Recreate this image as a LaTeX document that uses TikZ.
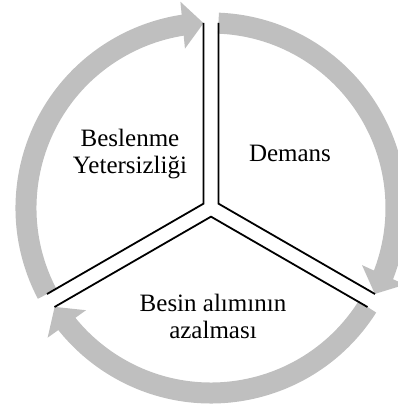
\documentclass[tikz,border=0pt]{standalone}
\usepackage{fontspec}
\setmainfont{Liberation Serif}
\usepackage{tikz}
\usetikzlibrary{arrows.meta,bending,calc}
\definecolor{ringgray}{HTML}{BFBFBF}
\tikzset{
  ringarrow/.style={draw=ringgray, line width=21pt, -{Triangle[width=46pt,length=21pt]}},
  divider/.style={draw=black, line width=1.8pt},
  phase/.style={align=center, font=\fontsize{25}{27}\selectfont, inner sep=0pt}
}

\begin{document}
\begin{tikzpicture}[x=1pt,y=1pt]
  \useasboundingbox (0,0) rectangle (398,410);
  \coordinate (hub) at (211,202);

  % cycle arrows
  \draw[ringarrow] ($(hub)+(207.7:185)$) arc[start angle=207.7, end angle=92.3, radius=185];
  \draw[ringarrow] ($(hub)+(87.7:185)$) arc[start angle=87.7, end angle=-27.7, radius=185];
  \draw[ringarrow] ($(hub)+(-32.3:185)$) arc[start angle=-32.3, end angle=-147.7, radius=185];

  % double separators
  \foreach \a in {90,210,330}
    \draw[divider] ($(hub)+(\a:185)+({\a+90}:7.5)$) -- ($(hub)+({\a+60}:8.66)$) -- ($(hub)+({\a+120}:185)+({\a+30}:7.5)$);

  \node[phase] (beslenme) at (130,256) {Beslenme\\Yetersizliği};
  \node[phase] (demans) at (290,257) {Demans};
  \node[phase] (besin) at (213,94) {Besin alımının\\azalması};
\end{tikzpicture}
\end{document}
